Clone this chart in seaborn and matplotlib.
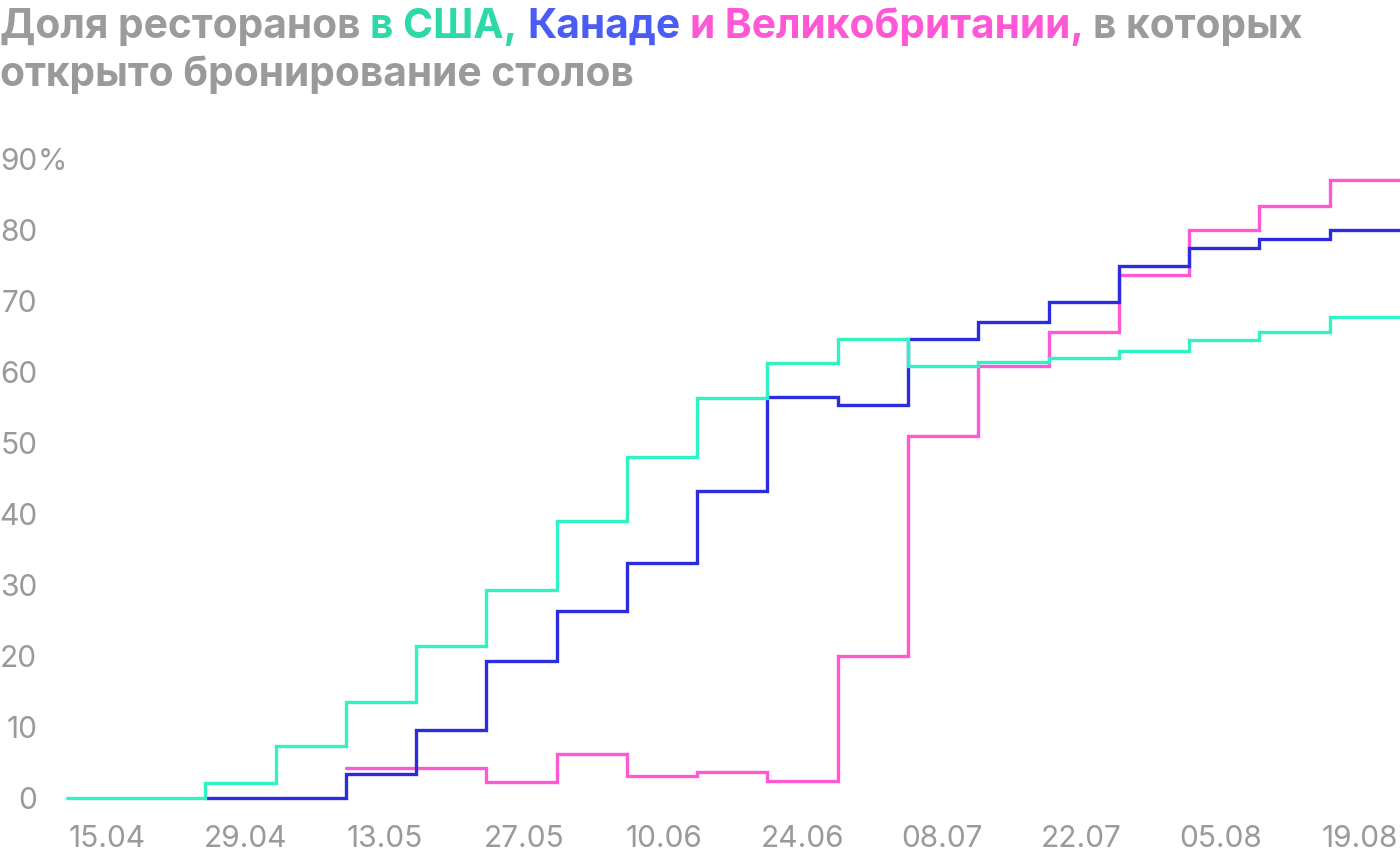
import matplotlib
matplotlib.use("Agg")
import matplotlib.pyplot as plt
import matplotlib.dates as mdates
import matplotlib.transforms as mtransforms
import pandas as pd
import seaborn as sns

# ---------------- data ----------------
series_start = "2020-04-11"
series_end = "2020-08-23 02:00"
# dates at which the weekly values change
week_dates = list(pd.date_range("2020-04-24 22:00", "2020-08-16 00:00", periods=17))

usa_initial = 0.0
usa_values = [2.2, 7.3, 13.5, 21.5, 29.3, 39.0, 48.0, 56.3, 61.3, 64.7,
              60.8, 61.4, 62.0, 63.0, 64.5, 65.6, 67.7]
canada_values = [0.0, 0.0, 3.4, 9.6, 19.3, 26.3, 33.1, 43.2, 56.5, 55.4,
                 64.7, 67.0, 69.9, 75.0, 77.5, 78.7, 80.0]
uk_values = [4.2, 4.2, 2.3, 6.3, 3.1, 3.7, 2.5, 20.0, 51.0, 60.8,
             65.6, 73.7, 80.0, 83.4, 87.1]          # starts at the 3rd week
uk_first_week = 2

countries = ["Великобритания", "Канада", "США"]
line_colors = ["#FF58D6", "#2B2BE0", "#30F3C4"]

tick_dates = list(pd.date_range("2020-04-15", periods=10, freq="14D"))
y_ticks = [0, 10, 20, 30, 40, 50, 60, 70, 80, 90]
y_tick_labels = ["0", "10", "20", "30", "40", "50", "60", "70", "80", "90"]

title_parts = [("Доля ресторанов", "#9B9B9B"),
               ("в США,", "#2DD9A8"),
               ("Канаде", "#4A5CF3"),
               ("и Великобритании,", "#FF58D6"),
               ("в которых", "#9B9B9B")]
title_line2 = "открыто бронирование столов"

# ---------------- table ----------------
rows = []
rows.append(("США", pd.Timestamp(series_start), usa_initial))
for d, v in zip(week_dates, usa_values):
    rows.append(("США", d, v))
rows.append(("США", pd.Timestamp(series_end), usa_values[-1]))
for d, v in zip(week_dates, canada_values):
    rows.append(("Канада", d, v))
rows.append(("Канада", pd.Timestamp(series_end), canada_values[-1]))
for d, v in zip(week_dates[uk_first_week:], uk_values):
    rows.append(("Великобритания", d, v))
rows.append(("Великобритания", pd.Timestamp(series_end), uk_values[-1]))
df = pd.DataFrame(rows, columns=["country", "date", "value"])

# ---------------- plot ----------------
sns.set_theme(style="white")
plt.rcParams["font.family"] = ["Inter", "DejaVu Sans"]

GREY = "#9A9A9A"
W, H = 1400, 860
fig = plt.figure(figsize=(W / 100, H / 100), dpi=100)
fig.patch.set_facecolor("white")
ax_left, ax_right = 67, 1400
ax_bottom, ax_top = 798.3, 159.0
ax = fig.add_axes([ax_left / W, (H - ax_bottom) / H,
                   (ax_right - ax_left) / W, (ax_bottom - ax_top) / H])

sns.lineplot(data=df, x="date", y="value", hue="country",
             hue_order=countries, palette=line_colors,
             estimator=None, drawstyle="steps-post",
             linewidth=2.4, legend=False, ax=ax)
for ln in ax.get_lines():
    ln.set_clip_on(False)
    ln.set_solid_joinstyle("miter")

ax.set_xlim(pd.Timestamp(series_start), pd.Timestamp(series_end))
ax.set_ylim(0, 90)
ax.set_xlabel("")
ax.set_ylabel("")
for s in ax.spines.values():
    s.set_visible(False)
ax.grid(False)
ax.set_facecolor("white")

tick_size = 21.5
ax.set_xticks(tick_dates)
ax.xaxis.set_major_formatter(mdates.DateFormatter("%d.%m"))
ax.set_yticks(y_ticks)
ax.set_yticklabels(y_tick_labels)
ax.tick_params(axis="x", length=0, pad=19, labelsize=tick_size, labelcolor=GREY)
ax.tick_params(axis="y", length=0, pad=21.5, labelsize=tick_size, labelcolor=GREY)

# percent sign after the top label
trans = mtransforms.blended_transform_factory(fig.transFigure, ax.transData)
fig.canvas.draw()
renderer = fig.canvas.get_renderer()
top_lab = ax.get_yticklabels()[-1]
bb = top_lab.get_window_extent(renderer)
ax.text((bb.x1 + 0.5) / W, y_ticks[-1], "%", transform=trans, ha="left",
        va="center_baseline", fontsize=tick_size, color=GREY)

# ---------------- title ----------------
def line_width(size):
    p1 = fig.text(0, 0, "a a", fontsize=size, fontweight="bold")
    p2 = fig.text(0, 0, "aa", fontsize=size, fontweight="bold")
    sw = p1.get_window_extent(renderer).width - p2.get_window_extent(renderer).width
    p1.remove(); p2.remove()
    total = 0.0
    for txt, _ in title_parts:
        t = fig.text(0, 0, txt, fontsize=size, fontweight="bold")
        total += t.get_window_extent(renderer).width
        t.remove()
    total += sw * (len(title_parts) - 1)
    return total, sw

base = 26.0
w0, _ = line_width(base)
title_size = base * 1303.0 / w0
_, space_w = line_width(title_size)

x_px = 0.0
y1 = (H - 38) / H
for txt, col in title_parts:
    t = fig.text(x_px / W, y1, txt, fontsize=title_size, fontweight="bold",
                 color=col, ha="left", va="baseline")
    x_px = t.get_window_extent(renderer).x1 + space_w
fig.text(0, (H - 86) / H, title_line2, fontsize=title_size, fontweight="bold",
         color=GREY, ha="left", va="baseline")

fig.savefig("out.png", dpi=100, facecolor="white")
